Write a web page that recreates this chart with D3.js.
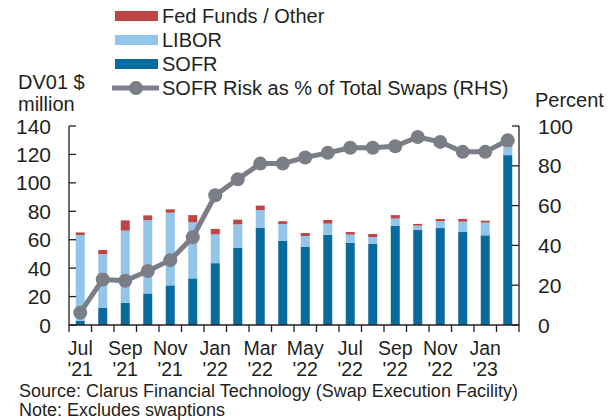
<!doctype html>
<html lang="en">
<head>
  <meta charset="utf-8">
  <title>SOFR risk</title>
  <script src="https://cdn.jsdelivr.net/npm/d3@7"></script>
  <style>
    body { margin: 0; background: #fff; }
    text { font-family: "Liberation Sans", Arial, sans-serif; fill: #231f20; }
  </style>
</head>
<body>
  <div id="chart"></div>
  <script>
    // monthly data, Jul '21 - Feb '23
    var months = ["Jul21", "Aug21", "Sep21", "Oct21", "Nov21", "Dec21", "Jan22", "Feb22", "Mar22", "Apr22",
      "May22", "Jun22", "Jul22", "Aug22", "Sep22", "Oct22", "Nov22", "Dec22", "Jan23", "Feb23"];
    var sofr = [3.0, 12.0, 15.7, 22.2, 27.9, 32.8, 43.5, 54.4, 68.5, 59.2, 55.1, 63.4, 57.9, 57.1, 69.9, 66.9, 68.2, 65.4, 63.1, 119.5];
    var libor = [60.3, 37.8, 50.7, 51.5, 51.1, 39.4, 20.3, 16.4, 12.4, 11.9, 7.5, 7.9, 5.7, 4.8, 5.0, 3.0, 4.8, 7.3, 8.9, 5.8];
    var fedFunds = [1.8, 3.0, 7.2, 3.4, 2.4, 5.1, 3.8, 3.3, 3.1, 1.9, 2.1, 2.6, 1.8, 2.1, 2.4, 1.2, 1.6, 1.9, 1.4, 0.5];
    var sofrPct = [6.2, 22.9, 22.2, 27.1, 32.6, 44.1, 65.2, 73.2, 81.1, 81.1, 84.2, 86.5, 89.1, 89.1, 89.8, 94.5, 92.0, 87.0, 87.0, 92.8];

    // tick labels (every other month)
    var tickMonths = ["Jul21", "Sep21", "Nov21", "Jan22", "Mar22", "May22", "Jul22", "Sep22", "Nov22", "Jan23"];
    var tickLine1 = ["Jul", "Sep", "Nov", "Jan", "Mar", "May", "Jul", "Sep", "Nov", "Jan"];
    var tickLine2 = ["'21", "'21", "'21", "'22", "'22", "'22", "'22", "'22", "'22", "'23"];
    var leftTicks = [0, 20, 40, 60, 80, 100, 120, 140];
    var rightTicks = [0, 20, 40, 60, 80, 100];

    var W = 610, H = 420;
    var margin = { top: 126, right: 91, bottom: 95, left: 69 };
    var colors = { sofr: "#076b9d", libor: "#93c5ea", fed: "#bd4545", line: "#7b7e86", axis: "#231f20" };

    var svg = d3.select("#chart").append("svg")
      .attr("width", W).attr("height", H);

    var x = d3.scaleBand().domain(months)
      .range([margin.left, W - margin.right])
      .paddingInner(0.6).paddingOuter(0.3);
    var y = d3.scaleLinear().domain([0, 140]).range([H - margin.bottom, margin.top]);
    var yR = d3.scaleLinear().domain([0, 100]).range([H - margin.bottom, margin.top]);

    // stacked bars
    var rows = months.map(function (m, i) {
      return { month: m, sofr: sofr[i], libor: libor[i], fed: fedFunds[i] };
    });
    var stack = d3.stack().keys(["sofr", "libor", "fed"])(rows);

    svg.append("g").selectAll("g")
      .data(stack)
      .enter().append("g")
      .attr("fill", function (d) { return colors[d.key]; })
      .selectAll("rect")
      .data(function (d) { return d; })
      .enter().append("rect")
      .attr("x", function (d) { return x(d.data.month); })
      .attr("width", x.bandwidth())
      .attr("y", function (d) { return y(d[1]); })
      .attr("height", function (d) { return y(d[0]) - y(d[1]); });

    // axes
    var ax = svg.append("g").attr("stroke", colors.axis).attr("stroke-width", 1.3);
    var x0 = margin.left, x1 = W - margin.right, yb = H - margin.bottom;
    ax.append("line").attr("x1", x0).attr("x2", x1).attr("y1", yb).attr("y2", yb);
    ax.append("line").attr("x1", x0).attr("x2", x0).attr("y1", y(140)).attr("y2", yb);
    ax.append("line").attr("x1", x1).attr("x2", x1).attr("y1", yR(100)).attr("y2", yb);

    // x ticks at band boundaries
    var bounds = months.map(function (m) { return x(m) + x.bandwidth() / 2 - x.step() / 2; });
    bounds.push(x1);
    ax.selectAll(".xt").data(bounds).enter().append("line")
      .attr("x1", function (d) { return d; }).attr("x2", function (d) { return d; })
      .attr("y1", yb).attr("y2", yb + 7);

    ax.selectAll(".yl").data(leftTicks).enter().append("line")
      .attr("x1", x0).attr("x2", x0 + 7)
      .attr("y1", function (d) { return y(d); }).attr("y2", function (d) { return y(d); });
    ax.selectAll(".yr").data(rightTicks).enter().append("line")
      .attr("x1", x1 - 7).attr("x2", x1)
      .attr("y1", function (d) { return yR(d); }).attr("y2", function (d) { return yR(d); });

    svg.append("g").selectAll("text").data(leftTicks).enter().append("text")
      .attr("x", 51).attr("y", function (d) { return y(d); })
      .attr("dy", "0.36em").attr("text-anchor", "end")
      .style("font-size", "21px")
      .text(function (d) { return d; });

    svg.append("g").selectAll("text").data(rightTicks).enter().append("text")
      .attr("x", 538).attr("y", function (d) { return yR(d); })
      .attr("dy", "0.36em")
      .style("font-size", "21px")
      .text(function (d) { return d; });

    var lab = svg.append("g").style("font-size", "19.5px").attr("text-anchor", "middle");
    tickMonths.forEach(function (m, i) {
      var cx = x(m) + x.bandwidth() / 2;
      lab.append("text").attr("x", cx).attr("y", 355).text(tickLine1[i]);
      lab.append("text").attr("x", cx).attr("y", 376).text(tickLine2[i]);
    });

    // SOFR share line (RHS)
    var line = d3.line()
      .x(function (d, i) { return x(months[i]) + x.bandwidth() / 2; })
      .y(function (d) { return yR(d); });
    svg.append("path").datum(sofrPct)
      .attr("d", line)
      .attr("fill", "none")
      .attr("stroke", colors.line)
      .attr("stroke-width", 5)
      .attr("stroke-linejoin", "round");
    svg.append("g").selectAll("circle").data(sofrPct).enter().append("circle")
      .attr("cx", function (d, i) { return x(months[i]) + x.bandwidth() / 2; })
      .attr("cy", function (d) { return yR(d); })
      .attr("r", 7)
      .attr("fill", colors.line);

    // axis titles
    svg.append("text").attr("x", 18).attr("y", 89).style("font-size", "20px").text("DV01 $");
    svg.append("text").attr("x", 18).attr("y", 111).style("font-size", "20px").text("million");
    svg.append("text").attr("x", 535).attr("y", 107).style("font-size", "20px").text("Percent");

    // legend
    var legend = [
      { label: "Fed Funds / Other", color: colors.fed, type: "rect" },
      { label: "LIBOR", color: colors.libor, type: "rect" },
      { label: "SOFR", color: colors.sofr, type: "rect" },
      { label: "SOFR Risk as % of Total Swaps (RHS)", color: colors.line, type: "line" }
    ];
    var lg = svg.append("g");
    legend.forEach(function (d, i) {
      var cy = 16 + i * 24;
      if (d.type === "rect") {
        lg.append("rect").attr("x", 115).attr("y", cy - 5).attr("width", 43).attr("height", 10).attr("fill", d.color);
      } else {
        lg.append("line").attr("x1", 112).attr("x2", 159).attr("y1", cy).attr("y2", cy)
          .attr("stroke", d.color).attr("stroke-width", 5);
        lg.append("circle").attr("cx", 136).attr("cy", cy).attr("r", 7).attr("fill", d.color);
      }
      lg.append("text").attr("x", 162).attr("y", cy).attr("dy", "0.36em")
        .style("font-size", "20px").text(d.label);
    });

    // footnotes
    svg.append("text").attr("x", 19).attr("y", 397).style("font-size", "18px")
      .text("Source: Clarus Financial Technology (Swap Execution Facility)");
    svg.append("text").attr("x", 19).attr("y", 416).style("font-size", "18px")
      .text("Note: Excludes swaptions");
  </script>
</body>
</html>
